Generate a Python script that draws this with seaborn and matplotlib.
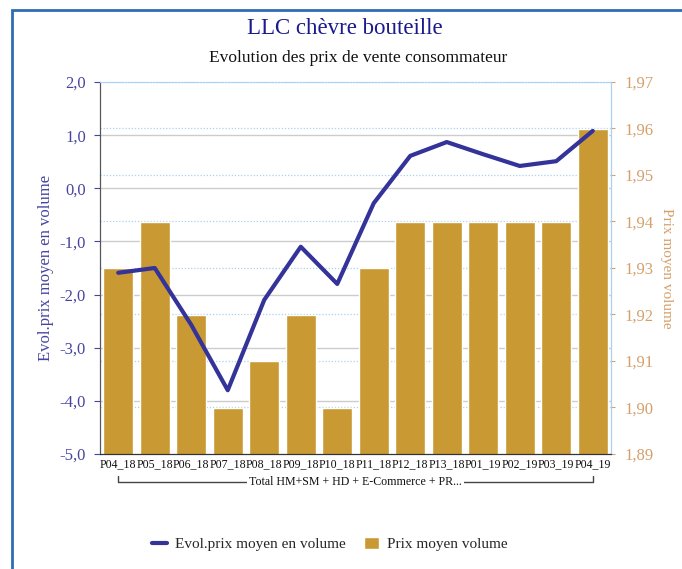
import numpy as np
import pandas as pd
import seaborn as sns
import matplotlib.pyplot as plt
from matplotlib.patches import Rectangle
from matplotlib.lines import Line2D
from matplotlib.ticker import FuncFormatter, MultipleLocator

# data
periods = ["P04_18", "P05_18", "P06_18", "P07_18", "P08_18", "P09_18", "P10_18",
           "P11_18", "P12_18", "P13_18", "P01_19", "P02_19", "P03_19", "P04_19"]
prix_moyen = [1.93, 1.94, 1.92, 1.90, 1.91, 1.92, 1.90,
              1.93, 1.94, 1.94, 1.94, 1.94, 1.94, 1.96]
evol_prix = [-1.59, -1.50, -2.57, -3.80, -2.10, -1.10, -1.80,
             -0.28, 0.61, 0.87, 0.64, 0.42, 0.51, 1.08]

bar_col = "#C99A33"
line_col = "#333399"
left_col = "#4545A0"
right_col = "#D4A06A"

sns.set_style("white")
plt.rcParams["font.family"] = ["Liberation Serif", "DejaVu Serif"]

df = pd.DataFrame({"periode": periods, "prix": prix_moyen,
                   "pos": np.arange(len(periods)), "evol": evol_prix})

fig = plt.figure(figsize=(6.82, 5.69), dpi=100)
ax = fig.add_axes([100 / 682, 1 - 454 / 569, 511 / 682, 372 / 569])

# bars on the primary axes (drawn below)
sns.barplot(data=df, x="periode", y="prix", color=bar_col, saturation=1,
            width=0.82, ax=ax, zorder=2)

# line on a twin axes
ax2 = ax.twinx()
sns.lineplot(data=df, x="pos", y="evol", color=line_col, linewidth=3, ax=ax2,
             sort=False)

# bar axis: ticks on the right
ax.set_ylim(1.89, 1.97)
ax.yaxis.set_major_locator(MultipleLocator(0.01))
ax.yaxis.tick_right()
ax.yaxis.set_label_position("right")
ax.yaxis.set_major_formatter(FuncFormatter(lambda v, p: f"{v:.2f}".replace(".", ",")))
ax.tick_params(axis="y", colors=right_col, labelsize=12, length=3, pad=7)
ax.grid(axis="y", color="#A9D2F2", linestyle=(0, (1, 1.5)), linewidth=0.9, zorder=0)
ax.set_axisbelow(True)
ax.set_xlabel("")
ax.set_ylabel("Prix moyen volume", color=right_col, fontsize=11, rotation=-90,
              labelpad=14)
ax.tick_params(axis="x", labelsize=8.6, length=0, pad=3, colors="#111111")
ax.set_xlim(-0.5, len(periods) - 0.5)

# solid grey grid at the left axis ticks, behind the bars
for v in range(-4, 2):
    ax.axhline(1.89 + (v + 5) / 7 * 0.08, color="#CCCCCC", linewidth=1, zorder=1)

# line axis: ticks on the left
ax2.set_ylim(-5, 2)
ax2.yaxis.set_major_locator(MultipleLocator(1))
ax2.yaxis.tick_left()
ax2.yaxis.set_label_position("left")
ax2.yaxis.set_major_formatter(FuncFormatter(lambda v, p: f"{v:.1f}".replace(".", ",")))
ax2.tick_params(axis="y", colors=left_col, labelsize=12, length=4, pad=6)
ax2.set_ylabel("Evol.prix moyen en volume", color=left_col, fontsize=12, labelpad=4)
ax2.set_xlabel("")

for a in (ax, ax2):
    a.spines["left"].set_color("#555555")
    a.spines["bottom"].set_color("#333333")
    a.spines["right"].set_color("#A9D2F2")
    a.spines["top"].set_color("#A9D2F2")
    a.spines["top"].set_linestyle((0, (1, 1.5)))

# group bracket under the tick labels
tr = ax.get_xaxis_transform()
ax.plot([0, 0, 13, 13], [-0.059, -0.075, -0.075, -0.059], color="#444444",
        linewidth=1, transform=tr, clip_on=False)
ax.text(6.5, -0.075, "Total HM+SM + HD + E-Commerce + PR...", transform=tr,
        ha="center", va="center", fontsize=8.6, color="#111111",
        bbox=dict(facecolor="white", edgecolor="none", pad=1.5))

fig.text(0.505, 1 - 28 / 569, "LLC chèvre bouteille", ha="center", va="center",
         fontsize=16.5, color="#1A1A8C")
fig.text(0.525, 1 - 58 / 569, "Evolution des prix de vente consommateur",
         ha="center", va="center", fontsize=12.5, color="#111111")

handles = [Line2D([0], [0], color=line_col, linewidth=3),
           Rectangle((0, 0), 1, 1, facecolor=bar_col)]
fig.legend(handles, ["Evol.prix moyen en volume", "Prix moyen volume"],
           loc="center", bbox_to_anchor=(0.483, 1 - 544 / 569), ncol=2,
           frameon=False, fontsize=11, handlelength=1.0, handleheight=0.9,
           columnspacing=1.2, handletextpad=0.5)

# blue frame of the chart area
fig.patches.append(Rectangle((12 / 682, -0.2), 1.2, 1.2 - 10 / 569,
                             transform=fig.transFigure, fill=False,
                             edgecolor="#2E6DB4", linewidth=2))

fig.savefig("out.png", dpi=100)
